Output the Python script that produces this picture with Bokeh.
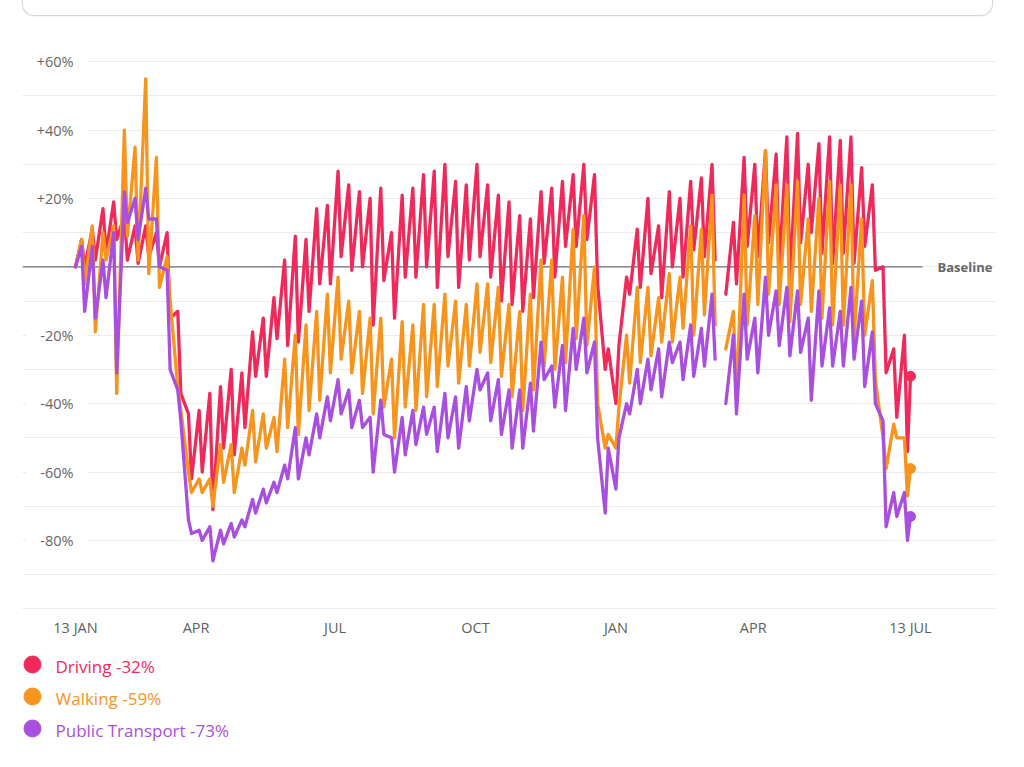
import numpy as np
import pandas as pd
from bokeh.plotting import figure
from bokeh.models import Range1d, FixedTicker, Div
from bokeh.layouts import column
from bokeh.embed import file_html
from bokeh.resources import INLINE
from bokeh.core.properties import value

NaN = float("nan")

START_DATE = "2020-01-13"
END_DATE = "2021-07-13"

SERIES_NAMES = ["Driving", "Walking", "Public Transport"]
SERIES_COLORS = ["#ef2a5b", "#f7941d", "#a84fe0"]

# Weekly values (% change vs baseline), one per week starting Mon 13 Jan 2020.
# PEAK = Friday of the week, TROUGH = Sunday of the week.
DRIVING_PEAK = [8, 11, 17, 19, 15, 12, 12, 10, 10,
                -13, -43, -42, -37, -35, -30, -31, -19, -15, -9, 2, 9,
                8, 17, 18, 28, 24, 22, 20, 23, 10, 21, 23, 27, 28, 30, 25, 24, 30, 24, 21, 19, 15, 14, 22, 23, 25, 27, 30, 27,
                -30, -40, -3, 11, 20, 12, 22, 20, 25, 26, 30, NaN, 13, 32, 30, 34, 33, 38, 39, 30, 36, 38, 37, 38, 29, 24, 0, -24, -20]
DRIVING_TROUGH = [0, 2, 4, 8, 2, 1, 3, 0, -15,
                  -37, -62, -60, -71, -53, -55, -47, -32, -32, -21, -23, -22,
                  -13, -5, -5, 3, -1, 0, -17, -4, -15, -3, -3, 0, -6, 3, -6, 2, 3, -3, -10, -11, -13, -9, 1, -3, 6, 6, 8, -5,
                  -24, -23, -8, -6, -2, -9, 0, -3, 5, 3, 2, -8, -5, 6, 3, 7, 0, -4, 7, 10, 4, 1, 4, 1, 6, -1, -31, -44, -54]
WALKING_PEAK = [8, 12, 10, 12, 40, 35, 55, 32, 3,
                -35, -60, -62, -62, -52, -52, -53, -42, -43, -44, -27, -20,
                -17, -13, -8, -3, -10, -13, -15, -15, -27, -16, -17, -11, -11, -8, -10, -11, -5, -5, -6, -11, -13, -8, 2, 2, -3, 11, 15, 0,
                -53, -53, -20, -6, -6, -9, -2, -3, 12, 11, 21, NaN, -13, 21, 15, 34, 24, 24, 25, 14, 20, 25, 24, 24, 14, -4, -50, -46, -50]
WALKING_TROUGH = [-5, -19, 2, -37, 9, 2, -2, -6, -10,
                  -42, -66, -66, -70, -63, -66, -58, -57, -53, -54, -47, -49,
                  -42, -39, -31, -27, -31, -37, -43, -41, -50, -41, -42, -38, -35, -29, -34, -29, -25, -28, -32, -38, -42, -36, -29, -30, -28, -21, -23, -40,
                  -49, -41, -34, -28, -26, -22, -22, -18, -20, -14, -17, -24, -39, -17, -11, -8, -11, -16, -11, -13, -15, -17, -17, -21, -20, -33, -59, -50, -67]
TRANSIT_PEAK = [6, 6, 2, 10, 22, 20, 23, 14, -1,
                -36, -74, -77, -76, -77, -75, -74, -68, -65, -63, -58, -47,
                -50, -43, -38, -33, -36, -39, -44, -39, -50, -44, -42, -41, -41, -37, -38, -35, -30, -31, -33, -36, -36, -34, -22, -29, -23, -18, -15, -22,
                -72, -65, -40, -30, -27, -24, -22, -22, -17, -18, -8, NaN, -20, -8, -15, -3, -7, -6, -7, -15, -7, -12, -13, -6, -10, -19, -45, -66, -66]
TRANSIT_TROUGH = [-13, -15, -9, -31, 13, 8, 14, 0, -30,
                  -45, -78, -80, -86, -81, -79, -76, -72, -69, -66, -62, -62,
                  -55, -50, -45, -43, -47, -47, -60, -49, -60, -55, -52, -49, -54, -50, -53, -45, -36, -45, -49, -53, -53, -48, -33, -41, -42, -30, -31, -50,
                  -53, -50, -43, -40, -36, -38, -28, -33, -32, -29, -27, -40, -43, -27, -31, -20, -23, -26, -25, -39, -29, -29, -29, -27, -35, -40, -76, -73, -80]

FIRST_VALUES = [0, 0, 0]          # 13 Jan 2020 baseline
LAST_VALUES = [-32, -59, -73]     # 13 Jul 2021

Y_TICKS = [60, 40, 20, -20, -40, -60, -80]
Y_TICK_LABELS = ["+60%", "+40%", "+20%", "-20%", "-40%", "-60%", "-80%"]
X_TICK_DATES = ["2020-01-13", "2020-04-01", "2020-07-01", "2020-10-01",
                "2021-01-01", "2021-04-01", "2021-07-13"]
X_TICK_LABELS = ["13 JAN", "APR", "JUL", "OCT", "JAN", "APR", "13 JUL"]

# ---------------------------------------------------------------------------
t0 = pd.Timestamp(START_DATE)
last_day = (pd.Timestamp(END_DATE) - t0).days
n_weeks = len(DRIVING_PEAK)

days = [0]
for w in range(n_weeks):
    days += [7 * w + 4, 7 * w + 6]
days.append(last_day)
days = np.array(days, dtype=float)


def build(first, peaks, troughs, last):
    vals = [first]
    for pk, tr in zip(peaks, troughs):
        vals += [pk, tr]
    vals.append(last)
    return np.array(vals, dtype=float)


series = [
    build(FIRST_VALUES[0], DRIVING_PEAK, DRIVING_TROUGH, LAST_VALUES[0]),
    build(FIRST_VALUES[1], WALKING_PEAK, WALKING_TROUGH, LAST_VALUES[1]),
    build(FIRST_VALUES[2], TRANSIT_PEAK, TRANSIT_TROUGH, LAST_VALUES[2]),
]

px_per_day = 835.0 / last_day
x_start = -53.0 / px_per_day
x_end = last_day + 85.0 / px_per_day

FONT = "Open Sans"
BL, BR = 22, 21   # left / right borders so the frame spans page x 22..995

p = figure(width=1016, height=628,
           x_range=Range1d(x_start, x_end), y_range=Range1d(-100.2, 70),
           y_axis_location=None, x_axis_location="below",
           output_backend="svg", toolbar_location=None, tools="",
           min_border_left=BL, min_border_right=BR, min_border_top=11, min_border_bottom=35,
           outline_line_color=None, background_fill_color="white", border_fill_color="white")

p.xgrid.grid_line_color = None
p.ygrid.ticker = FixedTicker(ticks=list(range(-100, 61, 10)))
p.ygrid.grid_line_color = "#ebebeb"
p.ygrid.grid_line_width = 1

tick_days = [int((pd.Timestamp(d) - t0).days) for d in X_TICK_DATES]
p.xaxis.ticker = FixedTicker(ticks=tick_days)
p.xaxis.major_label_overrides = {d: lab for d, lab in zip(tick_days, X_TICK_LABELS)}
p.xaxis.axis_line_color = None
p.xaxis.major_tick_line_color = None
p.xaxis.minor_tick_line_color = None
p.xaxis.major_label_text_font = FONT
p.xaxis.major_label_text_font_size = "14.5px"
p.xaxis.major_label_text_color = "#5f5f5f"
p.xaxis.major_label_standoff = 2

# baseline
base_end = (922 - 75) / px_per_day
p.segment(x0=[x_start], y0=[0], x1=[base_end], y1=[0], line_color="#6e6e6e", line_width=1.2)
p.text(x=[(937 - 75) / px_per_day], y=[0], text=["Baseline"], text_font=value(FONT),
       text_font_size="13px", text_font_style="bold", text_color="#666666",
       text_align="left", text_baseline="middle")

# y tick labels sitting on the grid lines (white box hides the grid behind them)
lab_x = (87 - 75) / px_per_day
p.text(x=[lab_x] * len(Y_TICKS), y=Y_TICKS, text=Y_TICK_LABELS, text_font=value(FONT),
       text_font_size="14.5px", text_color="#666666", text_align="right", text_baseline="middle",
       background_fill_color="white", padding=dict(left=14, right=14, top=1, bottom=1))

for vals, col in zip(series, SERIES_COLORS):
    p.line(days, vals, line_color=col, line_width=3.3, line_join="round", line_cap="round")

for vals, col in zip(series, SERIES_COLORS):
    p.scatter([days[-1]], [vals[-1]], size=10, color=col, marker="circle")

# legend figure: its x range is in page pixels (frame spans page x 22..995)
leg = figure(width=1016, height=110, x_range=Range1d(BL, 1016 - BR), y_range=Range1d(110, 0),
             output_backend="svg", toolbar_location=None, tools="",
             min_border_left=BL, min_border_right=BR, min_border_top=0, min_border_bottom=0,
             outline_line_color=None, x_axis_location=None, y_axis_location=None)
leg.xgrid.visible = False
leg.ygrid.visible = False
rows = [20 + 32 * i for i in range(len(SERIES_NAMES))]
leg.scatter([32] * len(rows), rows, size=17, color=SERIES_COLORS, marker="circle")
leg.text(x=[55] * len(rows), y=[r + 2 for r in rows],
         text=[f"{n} {v:+d}%" for n, v in zip(SERIES_NAMES, LAST_VALUES)],
         text_color=SERIES_COLORS, text_font=value(FONT), text_font_size="17px",
         text_align="left", text_baseline="middle")

box = Div(text="", width=971, height=16, margin=(0, 0, 0, BL),
          styles={"border": "1px solid #d6d6d6", "border-top": "none",
                  "border-radius": "0 0 12px 12px",
                  "box-shadow": "0 1px 2px rgba(0,0,0,0.06)"})

layout = column(box, p, leg)
open("out.html", "w").write(file_html(layout, INLINE))
